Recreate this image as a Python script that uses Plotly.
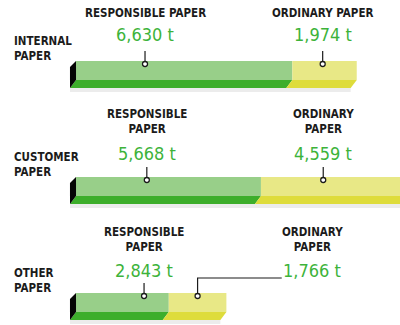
import plotly.graph_objects as go

# Paper consumption by category (tonnes)
categories = ["INTERNAL<br>PAPER", "CUSTOMER<br>PAPER", "OTHER<br>PAPER"]
responsible_t = [6630, 5668, 2843]
ordinary_t = [1974, 4559, 1766]
responsible_titles = ["RESPONSIBLE PAPER", "RESPONSIBLE<br>PAPER", "RESPONSIBLE<br>PAPER"]
ordinary_titles = ["ORDINARY PAPER", "ORDINARY<br>PAPER", "ORDINARY<br>PAPER"]

W, H = 400, 325
X_MIN, X_MAX = -2330, 9930          # tonnes axis; 0 sits at the bar origin
BEVEL = 185                         # horizontal skew of the front strip (in axis units)

# vertical layout of each row (y axis runs in pixels, top = 0)
bar_top = [61, 177, 293]
FACE_H = 19
FRONT_H = 8
SHADOW_H = 4
title_y = [13, 121, 239]
value_y = [34, 153, 270]
label_y = [48, 164, 280]
LEADER = 13

# callout anchor positions along each bar (tonnes)
resp_anchor = [2115, 2170, 2085]
ord_anchor = [7560, 7577, 3726]
ord_label_x = [7560, 7577, 7235]

GREEN_TOP = "#98cf89"
GREEN_FRONT = "#3dae2b"
YELLOW_TOP = "#e8e886"
YELLOW_FRONT = "#dedc3b"
VALUE_GREEN = "#3db33a"
INK = "#1b1b1b"

fig = go.Figure()


def poly(xs, ys, color):
    fig.add_trace(go.Scatter(
        x=xs + [xs[0]], y=ys + [ys[0]], mode="lines", fill="toself",
        fillcolor=color, line=dict(width=0), hoverinfo="skip", showlegend=False))


head_font = dict(family="DejaVu Sans Condensed", size=11.5, color=INK, weight="bold")
val_font = dict(family="DejaVu Sans Condensed", size=18, color=VALUE_GREEN)

for i in range(3):
    r, o = responsible_t[i], ordinary_t[i]
    total = r + o
    t = bar_top[i]
    fb = t + FACE_H
    bb = fb + FRONT_H
    # soft shadow under the bar
    poly([-BEVEL, total - BEVEL, total - BEVEL, -BEVEL], [bb, bb, bb + SHADOW_H, bb + SHADOW_H], "#ececec")
    # front strips
    poly([0, r, r - BEVEL, -BEVEL], [fb, fb, bb, bb], GREEN_FRONT)
    poly([r, total, total - BEVEL, r - BEVEL], [fb, fb, bb, bb], YELLOW_FRONT)
    # top faces
    poly([0, r, r, 0], [t, t, fb, fb], GREEN_TOP)
    poly([r, total, total, r], [t, t, fb, fb], YELLOW_TOP)
    # dark end cap
    poly([0, 0, -BEVEL, -BEVEL], [t, fb, bb, t + 6], "#050505")

    # leader lines
    ra = resp_anchor[i]
    fig.add_trace(go.Scatter(x=[ra, ra], y=[t + 3, t + 3 - LEADER], mode="lines",
                             line=dict(color=INK, width=1.2), hoverinfo="skip", showlegend=False))
    oa = ord_anchor[i]
    if ord_label_x[i] == oa:
        lx, ly = [oa, oa], [t + 3, t + 3 - LEADER]
    else:
        elbow = value_y[i] + 8
        lx, ly = [oa, oa, ord_label_x[i] - 930], [t + 3, elbow, elbow]
    fig.add_trace(go.Scatter(x=lx, y=ly, mode="lines",
                             line=dict(color=INK, width=1.2), hoverinfo="skip", showlegend=False))
    fig.add_trace(go.Scatter(x=[ra, oa], y=[t + 3, t + 3], mode="markers",
                             marker=dict(size=5, color="white", line=dict(color=INK, width=1.3)),
                             hoverinfo="skip", showlegend=False))

    # texts
    fig.add_annotation(x=ra, y=title_y[i], text=responsible_titles[i], showarrow=False,
                       xanchor="center", yanchor="middle", font=head_font)
    fig.add_annotation(x=ord_label_x[i], y=title_y[i], text=ordinary_titles[i], showarrow=False,
                       xanchor="center", yanchor="middle", font=head_font)
    fig.add_annotation(x=ra, y=value_y[i], text=f"{r:,} t", showarrow=False,
                       xanchor="center", yanchor="middle", font=val_font)
    fig.add_annotation(x=ord_label_x[i], y=value_y[i], text=f"{o:,} t", showarrow=False,
                       xanchor="center", yanchor="middle", font=val_font)
    fig.add_annotation(x=0.03, xref="paper", y=label_y[i], text=categories[i], showarrow=False,
                       xanchor="left", yanchor="middle", align="left", font=head_font)

fig.update_layout(
    width=W, height=H, margin=dict(l=0, r=0, t=0, b=0),
    paper_bgcolor="white", plot_bgcolor="white",
    xaxis=dict(range=[X_MIN, X_MAX], visible=False, fixedrange=True),
    yaxis=dict(range=[H, 0], visible=False, fixedrange=True),
)

fig.write_html("out.html")
